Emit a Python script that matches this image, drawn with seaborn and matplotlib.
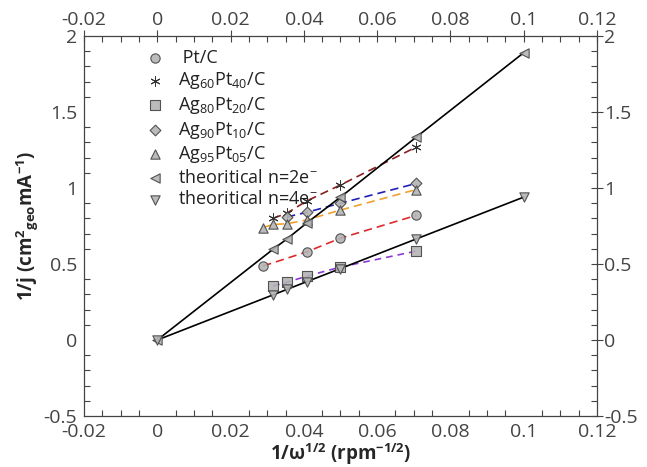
import numpy as np
import pandas as pd
import matplotlib
matplotlib.use("Agg")
import matplotlib.pyplot as plt
import seaborn as sns
from matplotlib.ticker import MultipleLocator

sns.set_theme(style="white")
plt.rcParams['font.family'] = ['Open Sans', 'DejaVu Sans']
plt.rcParams['mathtext.fontset'] = 'custom'
plt.rcParams['mathtext.rm'] = 'Open Sans'
plt.rcParams['mathtext.it'] = 'Open Sans'
plt.rcParams['mathtext.bf'] = 'Open Sans:bold'
plt.rcParams['mathtext.default'] = 'rm'

# ---- data ----
x_pt = [0.0289, 0.0408, 0.05, 0.0707]
y_pt = [0.487, 0.58, 0.67, 0.82]

x_ag60 = [0.0316, 0.0354, 0.0408, 0.05, 0.0707]
y_ag60 = [0.80, 0.835, 0.915, 1.02, 1.27]

x_ag80 = [0.0316, 0.0354, 0.0408, 0.05, 0.0707]
y_ag80 = [0.355, 0.38, 0.42, 0.48, 0.585]

x_ag90 = [0.0354, 0.0408, 0.05, 0.0707]
y_ag90 = [0.81, 0.84, 0.90, 1.03]

x_ag95 = [0.0289, 0.0316, 0.0354, 0.0408, 0.05, 0.0707]
y_ag95 = [0.74, 0.76, 0.765, 0.79, 0.855, 0.99]

x_th2 = [0.0, 0.0316, 0.0354, 0.0408, 0.05, 0.0707, 0.1]
y_th2 = [0.0, 0.597, 0.665, 0.77, 0.94, 1.335, 1.89]

x_th4 = [0.0, 0.0316, 0.0354, 0.0408, 0.05, 0.0707, 0.1]
y_th4 = [0.0, 0.297, 0.333, 0.384, 0.47, 0.665, 0.94]

labels = [" Pt/C", r"Ag$_{60}$Pt$_{40}$/C", r"Ag$_{80}$Pt$_{20}$/C",
          r"Ag$_{90}$Pt$_{10}$/C", r"Ag$_{95}$Pt$_{05}$/C",
          r"theoritical n=2e$^{-}$", r"theoritical n=4e$^{-}$"]

series = [
    (x_pt, y_pt, '#dd2a2a', 'o', (5, 3), labels[0]),
    (x_ag60, y_ag60, '#8b1f1f', (6, 2, 0), (5, 3), labels[1]),
    (x_ag80, y_ag80, '#8a3ad8', 's', (4, 3), labels[2]),
    (x_ag90, y_ag90, '#2020b8', 'D', (5, 3), labels[3]),
    (x_ag95, y_ag95, '#f0a030', '^', (5, 3), labels[4]),
    (x_th2, y_th2, 'black', '<', None, labels[5]),
    (x_th4, y_th4, 'black', 'v', None, labels[6]),
]

fig = plt.figure(figsize=(6.47, 4.67), dpi=100)
ax = fig.add_axes([0.1298, 0.1092, 0.7929, 0.8137])

for xs, ys, col, mk, dash, lab in series:
    df = pd.DataFrame({'x': xs, 'y': ys})
    sns.lineplot(data=df, x='x', y='y', ax=ax, color=col, lw=1.2, legend=False, zorder=2)
    if dash is not None:
        ax.lines[-1].set_dashes(dash)
    ms = 45 if mk != 'D' else 30
    if isinstance(mk, tuple):
        sns.scatterplot(data=df, x='x', y='y', ax=ax, marker=mk, s=45, color='#333333',
                        linewidth=0.7, label=lab, zorder=3)
    else:
        sns.scatterplot(data=df, x='x', y='y', ax=ax, marker=mk, s=ms, color='#b4b4b4',
                        edgecolor='#444444', linewidth=0.8, label=lab, zorder=3, alpha=0.9)

ax.set_xlim(-0.02, 0.12)
ax.set_ylim(-0.5, 2)
ax.xaxis.set_major_locator(MultipleLocator(0.02))
ax.xaxis.set_minor_locator(MultipleLocator(0.005))
ax.yaxis.set_major_locator(MultipleLocator(0.5))
ax.yaxis.set_minor_locator(MultipleLocator(0.1))

def fmt(v, p):
    s = ('%.2f' % v).rstrip('0').rstrip('.')
    if s == '-0':
        s = '0'
    return s
ax.xaxis.set_major_formatter(plt.FuncFormatter(fmt))
ax.yaxis.set_major_formatter(plt.FuncFormatter(fmt))

ax.tick_params(which='major', direction='inout', length=8, width=0.8, color='#444444',
               labelsize=14, labelcolor='#444444', top=True, right=True,
               labeltop=True, labelright=True, pad=1)
ax.tick_params(which='minor', direction='in', length=4, width=0.8, color='#444444',
               top=True, right=True, bottom=True, left=True)
for sp in ax.spines.values():
    sp.set_color('#444444')
    sp.set_linewidth(0.9)

ax.set_xlabel(r"1/ω$^{\mathbf{1/2}}$ (rpm$^{\mathbf{-1/2}}$)", fontsize=13.5, fontweight='bold', labelpad=0)
ax.set_ylabel(r"1/j (cm$^{\mathbf{2}}$$_{\mathbf{geo}}$mA$^{\mathbf{-1}}$)", fontsize=13.5, fontweight='bold', labelpad=2)

leg = ax.legend(loc='upper left', bbox_to_anchor=(0.10, 0.995), frameon=False, fontsize=13,
                labelspacing=0.2, handletextpad=0.75, handlelength=1.0, borderaxespad=0.2)
for t in leg.get_texts():
    t.set_color('#222222')

fig.savefig('out.png', dpi=100)
